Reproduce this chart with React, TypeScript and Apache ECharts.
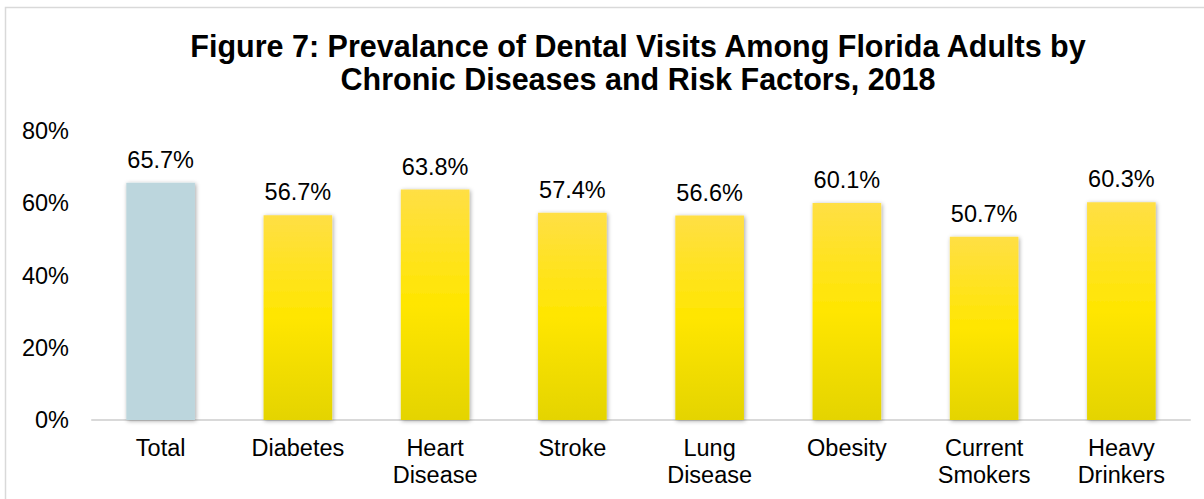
import React, { useEffect, useRef } from "react";
import * as echarts from "echarts";

const categories = ["Total", "Diabetes", "Heart\nDisease", "Stroke", "Lung\nDisease", "Obesity", "Current\nSmokers", "Heavy\nDrinkers"];
const values = [65.7, 56.7, 63.8, 57.4, 56.6, 60.1, 50.7, 60.3];
const yTicks = { min: 0, max: 80, interval: 20 };
const titleText = "Figure 7: Prevalance of Dental Visits Among Florida Adults by\nChronic Diseases and Risk Factors, 2018";

const FONT = "'Liberation Sans', Arial, Helvetica, sans-serif";

export default function App() {
  const ref = useRef<HTMLDivElement>(null);
  useEffect(() => {
    if (!ref.current) return;
    const chart = echarts.init(ref.current, null, { renderer: "svg" });
    const yellow = new echarts.graphic.LinearGradient(0, 0, 0, 1, [
      { offset: 0, color: "#FFDF45" },
      { offset: 0.5, color: "#FFE600" },
      { offset: 1, color: "#E4D400" },
    ]);
    const data = values.map((v, i) => ({
      value: v,
      itemStyle: { color: i === 0 ? "#BCD6DD" : yellow },
    }));
    chart.setOption({
      animation: false,
      backgroundColor: "#ffffff",
      textStyle: { fontFamily: FONT },
      title: {
        text: titleText,
        left: 633,
        top: 24,
        textAlign: "center",
        textStyle: { fontFamily: FONT, fontSize: 30.5, fontWeight: "bold", color: "#000", lineHeight: 33 },
      },
      graphic: [
        {
          type: "rect",
          shape: { x: 5.5, y: 7.5, width: 1210, height: 500 },
          style: { fill: "none", stroke: "#d9d9d9", lineWidth: 1.5 },
          silent: true,
        },
      ],
      grid: { left: 92, right: 14, top: 131, bottom: 79, containLabel: false },
      xAxis: {
        type: "category",
        data: categories,
        axisLine: { show: true, lineStyle: { color: "#d9d9d9", width: 2 } },
        axisTick: { show: false },
        axisLabel: { color: "#000", fontSize: 23.5, fontFamily: FONT, margin: 14, lineHeight: 27, interval: 0 },
      },
      yAxis: {
        type: "value",
        min: yTicks.min,
        max: yTicks.max,
        interval: yTicks.interval,
        splitLine: { show: false },
        axisLine: { show: false },
        axisTick: { show: false },
        axisLabel: { color: "#000", fontSize: 23.5, fontFamily: FONT, margin: 23, formatter: "{value}%" },
      },
      series: [
        {
          type: "bar",
          data,
          barWidth: "50%",
          itemStyle: {
            shadowBlur: 4,
            shadowColor: "rgba(0,0,0,0.35)",
            shadowOffsetX: 1,
            shadowOffsetY: 1,
          },
          label: {
            show: true,
            position: "top",
            distance: 11,
            color: "#000",
            fontSize: 23.5,
            fontFamily: FONT,
            formatter: (p: any) => p.value.toFixed(1) + "%",
          },
        },
      ],
    });
    return () => chart.dispose();
  }, []);
  return (
    <div
      ref={ref}
      style={{ position: "fixed", left: 0, top: 0, width: 1204, height: 499 }}
    />
  );
}
